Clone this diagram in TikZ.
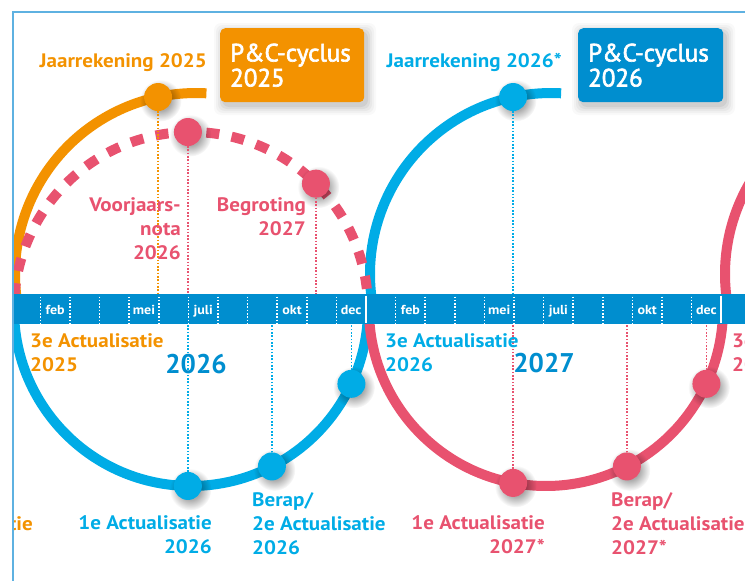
\documentclass[tikz,border=0pt]{standalone}
\usepackage{fontspec}
\setmainfont{PT Sans}
\newfontfamily\lblfont[FakeStretch=1.08]{PT Sans}
\newfontfamily\boxfont[FakeBold=2.5]{PT Sans}
\usetikzlibrary{calc,fadings}
\definecolor{cOrange}{RGB}{243,146,0}
\definecolor{cCyan}{RGB}{0,172,230}
\definecolor{cBar}{RGB}{0,142,207}
\definecolor{cRed}{RGB}{232,82,111}
\definecolor{cFrame}{RGB}{94,177,225}
\pgfdeclareradialshading{softshadowshade}{\pgfpointorigin}{color(0bp)=(white); color(12bp)=(black!15); color(25bp)=(black); color(50bp)=(black)}
\pgfdeclarefading{softshadow}{\pgfuseshading{softshadowshade}}
\newcommand\pcdot[5]{%
  \fill[black,opacity=.38,path fading=softshadow] ($(#2)+(#3:#4)+(2.5,3.5)$) circle[radius=21];
  \node[pcdotstyle,fill=#5] (#1) at ($(#2)+(#3:#4)$) {};}
\begin{document}
\begin{tikzpicture}[x=1pt,y=-1pt,
  arcline/.style={line width=10pt},
  pcdotstyle/.style={circle,inner sep=0pt,outer sep=0pt,minimum size=28pt},
  link/.style={line width=1.6pt,dash pattern=on 1.6pt off 1.7pt},
  tick/.style={white,line width=1.5pt,dash pattern=on 1.5pt off 1.8pt},
  lbl/.style={inner sep=0pt,font=\lblfont\fontsize{19.5}{24}\selectfont\bfseries},
  month/.style={inner sep=0pt,text=white,font=\lblfont\fontsize{13}{13}\selectfont\bfseries},
  yearlbl/.style={inner sep=0pt,text=cBar,font=\fontsize{27}{27}\selectfont\bfseries},
  pcbox/.style={rounded corners=5pt,inner xsep=10pt,inner ysep=0pt,align=left,anchor=north west,
    text width=124pt,minimum height=74pt,text=white,font=\boxfont\fontsize{25}{25}\selectfont},
]
\useasboundingbox (0,0) rectangle (745,581);
\coordinate (cO) at (196,274);
\coordinate (cBU) at (551,274);
\coordinate (cRU) at (906,274);
\coordinate (cL) at (191,309);
\coordinate (cR) at (546,309);
\begin{scope}
\clip (13,12) rectangle (745,581);
% cycle arcs
\draw[arcline,cOrange] ($(cO)+(168:181)$) arc[start angle=168,end angle=273.3,radius=181];
\draw[arcline,cCyan] ($(cL)+(183:177)$) arc[start angle=183,end angle=-3,radius=177];
\draw[arcline,cCyan] ($(cBU)+(168:181)$) arc[start angle=168,end angle=273.2,radius=181];
\draw[arcline,cRed,dash pattern=on 13pt off 12.5pt,dash phase=3.3pt] ($(cL)+(177:177)$) arc[start angle=177,end angle=357,radius=177];
\draw[arcline,cRed] ($(cR)+(183:177)$) arc[start angle=183,end angle=-3,radius=177];
\draw[arcline,cRed] ($(cRU)+(168:181)$) arc[start angle=168,end angle=215,radius=181];
% time bar
\node[fill=cBar,inner sep=0pt,outer sep=0pt,minimum width=745pt,minimum height=30pt,anchor=north west] (bar) at (0,294) {};
\foreach \k in {1,...,11,13,14,...,23}
  \draw[tick] ({10.8+\k*29.6},296.5) -- ({10.8+\k*29.6},323);
\foreach \k in {12,24}
  \draw[white,line width=1.8pt] ({10.8+\k*29.6},295.5) -- ({10.8+\k*29.6},322.5);
\foreach \m/\k [count=\i] in {feb/1.5,mei/4.5,juli/6.5,okt/9.5,dec/11.5,feb/13.5,mei/16.5,juli/18.5,okt/21.5,dec/23.5}
  \node[month,anchor=base] (month\i) at ({10.8+\k*29.6},314) {\m};
% box shadows
\foreach \d/\o in {9/0.025,7/0.03,5/0.04,3/0.05,1/0.06}{
  \fill[black,opacity=\o,rounded corners=7pt] ({220+3-\d},{28+4-\d}) rectangle ({364+3+\d},{102+4+\d});
  \fill[black,opacity=\o,rounded corners=7pt] ({578+3-\d},{28+4-\d}) rectangle ({723+3+\d},{102+4+\d});
}
\node[pcbox,fill=cOrange] (box25) at (220,28) {P\&C-cyclus\\2025};
\node[pcbox,fill=cBar,text width=125pt] (box26) at (578,28) {P\&C-cyclus\\2026};
% milestone dots
\pcdot{dJ25}{cO}{257.9}{181}{cOrange}
\pcdot{dVJN}{cL}{269}{177}{cRed}
\pcdot{dBEG}{cL}{314.9}{177}{cRed}
\pcdot{dA1b}{cL}{91}{177}{cCyan}
\pcdot{dBRb}{cL}{62.8}{177}{cCyan}
\pcdot{dA3b}{cL}{25}{177}{cCyan}
\pcdot{dJ26}{cBU}{257.9}{181}{cCyan}
\pcdot{dA1r}{cR}{100.7}{177}{cRed}
\pcdot{dBRr}{cR}{62.8}{177}{cRed}
\pcdot{dA3r}{cR}{25}{177}{cRed}
% dotted links to the time bar
\draw[link,cOrange] (dJ25) -- (dJ25 |- bar.north);
\draw[link,cRed] (dVJN) -- (dVJN |- bar.north);
\draw[link,cRed] (dBEG) -- (dBEG |- bar.north);
\draw[link,cCyan] (dA1b) -- (dA1b |- bar.south);
\draw[link,cCyan] (dBRb) -- (dBRb |- bar.south);
\draw[link,cCyan] (dA3b) -- (dA3b |- bar.south);
\draw[link,cCyan] (dJ26) -- (dJ26 |- bar.north);
\draw[link,cRed] (dA1r) -- (dA1r |- bar.south);
\draw[link,cRed] (dBRr) -- (dBRr |- bar.south);
\draw[link,cRed] (dA3r) -- (dA3r |- bar.south);
% labels
\node[lbl,text=cOrange,anchor=base east] (jr25) at (207,67) {Jaarrekening 2025};
\node[lbl,text=cCyan,anchor=base east] (jr26) at (562,67) {Jaarrekening 2026*};
\node[lbl,text=cRed,align=right,anchor=north east] (vjn) at (181,197) {Voorjaars-\\nota\\2026};
\node[lbl,text=cRed,align=right,anchor=north east] (beg) at (306,197) {Begroting\\2027};
\node[lbl,text=cOrange,align=left,anchor=north west] (a3o) at (30,333) {3e Actualisatie\\2025};
\node[lbl,text=cOrange,anchor=base east] (a2o) at (33,530) {2e Actualisatie};
\node[yearlbl,anchor=base] (y26) at (196,373) {2026};
\node[lbl,text=cCyan,align=right,anchor=north east] (a1b) at (212,515) {1e Actualisatie\\2026};
\node[lbl,text=cCyan,align=left,anchor=north west] (brb) at (252,492) {Berap/\\2e Actualisatie\\2026};
\node[lbl,text=cCyan,align=left,anchor=north west] (a3b) at (385,333) {3e Actualisatie\\2026};
\node[yearlbl,anchor=base] (y27) at (544,372) {2027};
\node[lbl,text=cRed,align=right,anchor=north east] (a1r) at (545,515) {1e Actualisatie\\2027*};
\node[lbl,text=cRed,align=left,anchor=north west] (brr) at (611,492) {Berap/\\2e Actualisatie\\2027*};
\node[lbl,text=cRed,align=left,anchor=north west] (a3r) at (732,333) {3e Actualisatie\\2027};
\end{scope}
\draw[cFrame,line width=1.3pt] (13,581) -- (13,12) -- (745,12);
\end{tikzpicture}
\end{document}
